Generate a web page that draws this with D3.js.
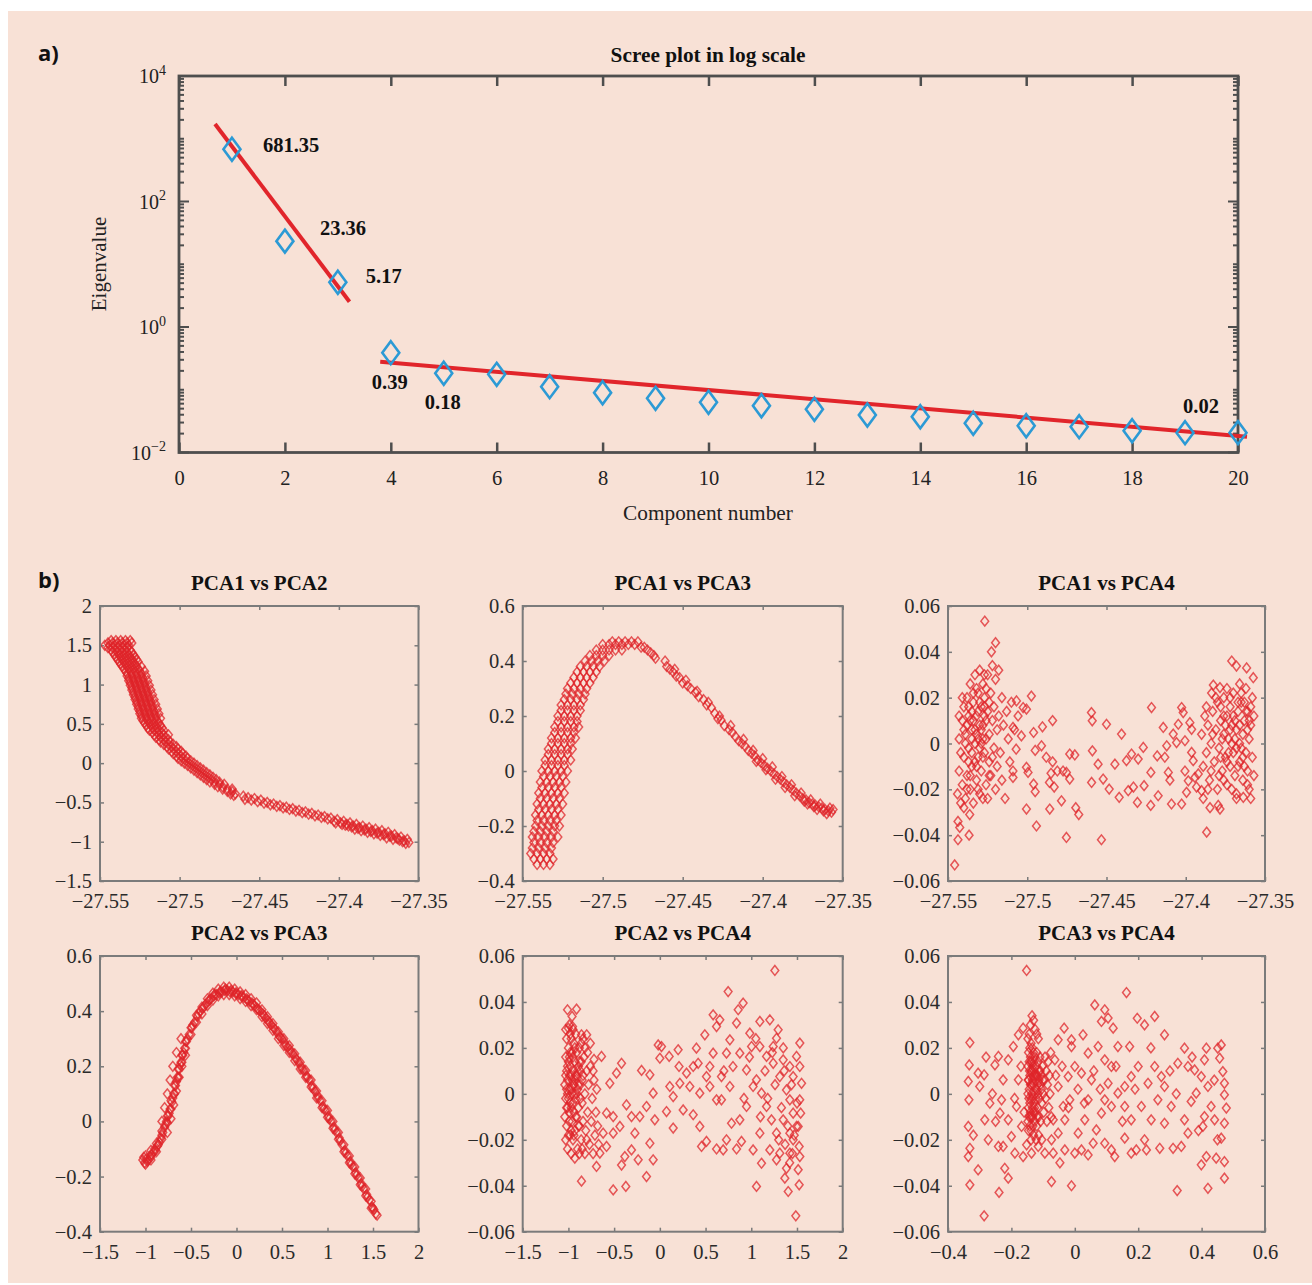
<!DOCTYPE html>
<html><head><meta charset="utf-8">
<script src="https://cdn.jsdelivr.net/npm/d3@7"></script>
<style>body{margin:0;background:#fff}svg{display:block}</style>
</head><body><svg id="c" width="1312" height="1285"></svg>
<script>
// ---------------- DATA ----------------
const components = [1,2,3,4,5,6,7,8,9,10,11,12,13,14,15,16,17,18,19,20];
const eigenvalues = [681.35,23.36,5.17,0.39,0.183,0.176,0.112,0.0897,0.073,0.063,0.0557,0.0488,0.0396,0.0372,0.0292,0.0267,0.0258,0.0222,0.0207,0.0207];
const fitSteep = [[0.68,1718],[3.22,2.53]];
const fitFlat = [[3.8,0.28],[20.17,0.0179]];
const labelTexts = ["681.35","23.36","5.17","0.39","0.18","0.02"];
const labelComponents = [1,2,3,4,5,19];
const screeXTicks = [0,2,4,6,8,10,12,14,16,18,20];
const screeYExponents = [-2,0,2,4];

const pc1Ticks = [-27.55,-27.5,-27.45,-27.4,-27.35];
const pc2Ticks = [-1.5,-1,-0.5,0,0.5,1,1.5,2];
const pc3Ticks = [-0.4,-0.2,0,0.2,0.4,0.6];
const pc4Ticks = [-0.06,-0.04,-0.02,0,0.02,0.04,0.06];
const panelTitles = ["PCA1 vs PCA2","PCA1 vs PCA3","PCA1 vs PCA4","PCA2 vs PCA3","PCA2 vs PCA4","PCA3 vs PCA4"];

// PCA1 vs PCA2 : rows [pc2, [pc1...]] + pairs
const pca12Rows = [
[1.56,[-27.543,-27.540,-27.537,-27.534,-27.531]],
[1.53,[-27.545,-27.542,-27.539,-27.536,-27.533,-27.530]],
[1.50,[-27.547,-27.544,-27.541,-27.538,-27.535,-27.532]],
[1.47,[-27.545,-27.542,-27.539,-27.536,-27.533]],
[1.44,[-27.543,-27.540,-27.537,-27.534,-27.531]],
[1.41,[-27.542,-27.539,-27.536,-27.533,-27.530]],
[1.38,[-27.541,-27.538,-27.535,-27.532,-27.529]],
[1.35,[-27.540,-27.537,-27.534,-27.531,-27.528]],
[1.32,[-27.539,-27.536,-27.533,-27.530,-27.527]],
[1.29,[-27.538,-27.535,-27.532,-27.529,-27.526]],
[1.26,[-27.537,-27.534,-27.531,-27.528]],
[1.23,[-27.536,-27.533,-27.530,-27.527,-27.524]],
[1.20,[-27.535,-27.532,-27.529,-27.526]],
[1.17,[-27.534,-27.531,-27.528,-27.525,-27.522]],
[1.14,[-27.533,-27.530,-27.527,-27.524]],
[1.11,[-27.533,-27.530,-27.527,-27.524,-27.521]],
[1.08,[-27.532,-27.529,-27.526,-27.523]],
[1.05,[-27.532,-27.529,-27.526,-27.523,-27.520]],
[1.02,[-27.531,-27.528,-27.525,-27.522]],
[0.99,[-27.531,-27.528,-27.525,-27.522,-27.519]],
[0.96,[-27.530,-27.527,-27.524,-27.521]],
[0.93,[-27.530,-27.527,-27.524,-27.521,-27.518]],
[0.90,[-27.529,-27.526,-27.523,-27.520]],
[0.87,[-27.529,-27.526,-27.523,-27.520,-27.517]],
[0.84,[-27.528,-27.525,-27.522,-27.519]],
[0.81,[-27.528,-27.525,-27.522,-27.519,-27.516]],
[0.78,[-27.527,-27.524,-27.521,-27.518]],
[0.75,[-27.527,-27.524,-27.521,-27.518,-27.515]],
[0.72,[-27.526,-27.523,-27.520,-27.517]],
[0.69,[-27.526,-27.523,-27.520,-27.517,-27.514]],
[0.66,[-27.525,-27.522,-27.519,-27.516]],
[0.63,[-27.525,-27.522,-27.519,-27.516,-27.513]],
[0.60,[-27.524,-27.521,-27.518,-27.515]],
[0.57,[-27.524,-27.521,-27.518,-27.515,-27.512]],
[0.54,[-27.523,-27.520,-27.517,-27.514]],
[0.51,[-27.522,-27.519,-27.516,-27.513]],
[0.48,[-27.521,-27.518,-27.515,-27.512]],
[0.45,[-27.520,-27.517,-27.514,-27.511]],
[0.42,[-27.519,-27.516,-27.513,-27.510]],
[0.39,[-27.517,-27.514,-27.511]],
[0.36,[-27.516,-27.513,-27.510,-27.507]],
[0.33,[-27.515,-27.512,-27.509]],
[0.30,[-27.513,-27.510,-27.507]],
[0.27,[-27.512,-27.509,-27.506]],
[0.24,[-27.510,-27.507,-27.504]],
[0.21,[-27.508,-27.505,-27.502]],
[0.18,[-27.507,-27.504,-27.501]],
[0.15,[-27.505,-27.502,-27.499]],
[0.12,[-27.504,-27.501,-27.498]],
[0.09,[-27.502,-27.499,-27.496]],
[0.06,[-27.501,-27.498,-27.495]],
[0.03,[-27.499,-27.496,-27.493]],
[0.00,[-27.497,-27.494,-27.491]],
[-0.03,[-27.495,-27.492,-27.489]],
[-0.06,[-27.493,-27.490,-27.487]],
[-0.09,[-27.491,-27.488,-27.485]],
[-0.12,[-27.489,-27.486,-27.483]],
[-0.15,[-27.487,-27.484,-27.481]],
[-0.18,[-27.485,-27.482,-27.479]],
[-0.21,[-27.483,-27.480,-27.477]],
[-0.24,[-27.481,-27.478,-27.475]],
[-0.27,[-27.478,-27.475,-27.472]],
[-0.30,[-27.476,-27.473]],
[-0.33,[-27.473,-27.470,-27.467]],
[-0.36,[-27.470,-27.467]],
[-0.39,[-27.468,-27.465]],
[-0.41,[-27.466]]
];
const pca12Tail = [[-27.460,-0.42],[-27.459,-0.46],[-27.457,-0.44],[-27.455,-0.47],[-27.453,-0.45],[-27.451,-0.49],[-27.449,-0.47],[-27.447,-0.51],[-27.445,-0.50],[-27.443,-0.53],[-27.441,-0.52],[-27.439,-0.55],[-27.437,-0.54],[-27.435,-0.57],[-27.433,-0.56],[-27.431,-0.59],[-27.429,-0.58],[-27.427,-0.61],[-27.425,-0.60],[-27.423,-0.63],[-27.421,-0.62],[-27.419,-0.65],[-27.417,-0.64],[-27.415,-0.67],[-27.413,-0.66],[-27.411,-0.69],[-27.409,-0.68],[-27.407,-0.71],[-27.405,-0.70],[-27.403,-0.74],[-27.401,-0.72],[-27.399,-0.76],[-27.397,-0.74],[-27.395,-0.78],[-27.393,-0.76],[-27.391,-0.80],[-27.389,-0.78],[-27.387,-0.82],[-27.385,-0.80],[-27.383,-0.84],[-27.381,-0.82],[-27.379,-0.86],[-27.377,-0.84],[-27.375,-0.88],[-27.373,-0.86],[-27.371,-0.90],[-27.369,-0.88],[-27.367,-0.93],[-27.365,-0.91],[-27.363,-0.96],[-27.361,-0.94],[-27.359,-0.99],[-27.357,-0.97],[-27.356,-1.01],[-27.358,-1.02],[-27.360,-1.00],[-27.362,-0.98],[-27.364,-0.95],[-27.366,-0.97],[-27.368,-0.93],[-27.370,-0.95],[-27.372,-0.91],[-27.374,-0.92],[-27.376,-0.89],[-27.378,-0.90],[-27.380,-0.87],[-27.382,-0.88],[-27.384,-0.85],[-27.386,-0.86],[-27.388,-0.83],[-27.390,-0.84],[-27.392,-0.81],[-27.394,-0.80],[-27.396,-0.79],[-27.398,-0.78],[-27.402,-0.76]];

// PCA1 vs PCA3 : rows [pc3, [pc1...]] + pairs
const pca13Rows = [
[-0.34,[-27.541,-27.537,-27.533]],
[-0.32,[-27.543,-27.539,-27.535,-27.531]],
[-0.30,[-27.545,-27.541,-27.537,-27.533]],
[-0.28,[-27.544,-27.540,-27.536,-27.532]],
[-0.26,[-27.543,-27.539,-27.535,-27.531]],
[-0.24,[-27.544,-27.540,-27.536,-27.532,-27.528]],
[-0.22,[-27.543,-27.539,-27.535,-27.531]],
[-0.20,[-27.542,-27.538,-27.534,-27.530,-27.527]],
[-0.18,[-27.541,-27.537,-27.533,-27.529]],
[-0.16,[-27.542,-27.538,-27.534,-27.530,-27.526]],
[-0.14,[-27.540,-27.536,-27.532,-27.528]],
[-0.12,[-27.541,-27.537,-27.533,-27.529,-27.525]],
[-0.10,[-27.539,-27.535,-27.531,-27.527]],
[-0.08,[-27.540,-27.536,-27.532,-27.528,-27.524]],
[-0.06,[-27.538,-27.534,-27.530,-27.526]],
[-0.04,[-27.539,-27.535,-27.531,-27.527,-27.523]],
[-0.02,[-27.537,-27.533,-27.529,-27.525]],
[0.00,[-27.538,-27.534,-27.530,-27.526,-27.522]],
[0.02,[-27.536,-27.532,-27.528,-27.524]],
[0.04,[-27.536,-27.532,-27.528,-27.524,-27.520]],
[0.06,[-27.534,-27.530,-27.526,-27.522]],
[0.08,[-27.534,-27.530,-27.526,-27.522,-27.519]],
[0.10,[-27.532,-27.528,-27.524,-27.520]],
[0.12,[-27.532,-27.528,-27.524,-27.520,-27.517]],
[0.14,[-27.530,-27.526,-27.522,-27.518]],
[0.16,[-27.530,-27.526,-27.522,-27.518,-27.515]],
[0.18,[-27.528,-27.524,-27.520,-27.516]],
[0.20,[-27.528,-27.524,-27.520,-27.516]],
[0.22,[-27.526,-27.522,-27.518,-27.514]],
[0.24,[-27.526,-27.522,-27.518,-27.514]],
[0.26,[-27.524,-27.520,-27.516,-27.512]],
[0.28,[-27.523,-27.519,-27.515,-27.511]],
[0.30,[-27.522,-27.518,-27.514,-27.510]],
[0.32,[-27.520,-27.516,-27.512,-27.508]],
[0.34,[-27.518,-27.514,-27.510,-27.506]],
[0.36,[-27.516,-27.512,-27.508,-27.504]],
[0.38,[-27.514,-27.510,-27.506,-27.502]],
[0.40,[-27.511,-27.507,-27.503,-27.499]],
[0.42,[-27.508,-27.504,-27.500,-27.496]],
[0.44,[-27.504,-27.500,-27.496,-27.492,-27.488]],
[0.46,[-27.500,-27.496,-27.492,-27.488,-27.484,-27.480]],
[0.47,[-27.494,-27.490,-27.486,-27.482,-27.478]],
[0.45,[-27.476,-27.474]],
[0.44,[-27.472]],
[0.43,[-27.470]],
[0.42,[-27.468]],
[0.41,[-27.467]]
];
const pca13Tail = [[-27.461,0.40],[-27.460,0.38],[-27.458,0.37],[-27.456,0.36],[-27.454,0.345],[-27.452,0.34],[-27.450,0.32],[-27.447,0.31],[-27.445,0.30],[-27.442,0.285],[-27.440,0.27],[-27.437,0.26],[-27.435,0.24],[-27.432,0.23],[-27.430,0.21],[-27.428,0.19],[-27.426,0.185],[-27.424,0.165],[-27.421,0.15],[-27.419,0.14],[-27.417,0.125],[-27.415,0.11],[-27.413,0.10],[-27.411,0.09],[-27.409,0.075],[-27.407,0.065],[-27.405,0.055],[-27.403,0.04],[-27.401,0.03],[-27.399,0.02],[-27.397,0.01],[-27.395,0.00],[-27.393,-0.01],[-27.391,-0.02],[-27.389,-0.03],[-27.387,-0.04],[-27.385,-0.05],[-27.383,-0.06],[-27.381,-0.07],[-27.379,-0.08],[-27.377,-0.09],[-27.375,-0.10],[-27.373,-0.105],[-27.371,-0.115],[-27.369,-0.12],[-27.367,-0.125],[-27.365,-0.13],[-27.363,-0.135],[-27.361,-0.14],[-27.359,-0.145],[-27.357,-0.15],[-27.356,-0.14],
[-27.455,0.37],[-27.448,0.33],[-27.441,0.29],[-27.434,0.25],[-27.427,0.20],[-27.420,0.165],[-27.412,0.115],[-27.406,0.075],[-27.400,0.045],[-27.394,0.015],[-27.388,-0.02],[-27.382,-0.05],[-27.376,-0.08],[-27.370,-0.105],[-27.364,-0.12],[-27.358,-0.135],[-27.404,0.035],[-27.398,0.005],[-27.392,-0.03],[-27.386,-0.06],[-27.380,-0.09],[-27.374,-0.11],[-27.368,-0.13],[-27.362,-0.145],[-27.360,-0.155],[-27.366,-0.14],[-27.372,-0.12]];

// PCA1 vs PCA4
const pca14 = [
[-27.544,-0.022],[-27.543,-0.012],[-27.543,0.002],[-27.542,-0.026],[-27.541,0.010],[-27.541,-0.018],[-27.540,-0.006],[-27.540,0.016],[-27.539,-0.024],[-27.539,0.004],[-27.538,-0.014],[-27.538,0.020],[-27.537,-0.002],[-27.537,0.012],[-27.536,-0.020],[-27.536,0.026],[-27.535,0.006],[-27.535,-0.010],[-27.534,0.018],[-27.534,-0.026],[-27.533,0.000],[-27.533,0.030],[-27.532,0.012],[-27.532,-0.016],[-27.531,0.022],[-27.531,-0.006],[-27.530,0.008],[-27.530,0.032],[-27.530,-0.022],[-27.529,0.016],[-27.529,-0.012],[-27.528,0.002],[-27.528,0.026],[-27.527,-0.004],[-27.527,0.020],[-27.526,0.010],[-27.526,-0.018],[-27.525,0.014],[-27.525,0.030],[-27.524,-0.008],[-27.524,0.004],[-27.523,0.022],[-27.523,-0.014],[-27.522,0.010],[-27.522,0.034],[-27.521,-0.002],[-27.521,0.016],[-27.520,-0.020],[-27.520,0.028],[-27.519,0.006],[-27.519,-0.010],[-27.518,0.012],[-27.518,0.032],[-27.517,-0.004],[-27.516,0.020],[-27.516,-0.016],[-27.515,0.008],[-27.514,-0.024],[-27.513,0.014],[-27.512,0.002],[-27.511,-0.008],[-27.510,0.018],[-27.509,-0.012],[-27.508,0.006],[-27.541,0.020],[-27.538,0.008],[-27.535,0.014],[-27.532,0.004],[-27.529,0.000],[-27.533,-0.008],[-27.536,-0.014],[-27.527,0.012],[-27.531,0.014],[-27.534,0.010],[-27.537,0.016],[-27.526,0.002],[-27.524,0.018],[-27.522,-0.006],[-27.530,-0.002],[-27.540,-0.028],[-27.528,-0.024],[-27.525,-0.024],[-27.535,0.002],[-27.532,0.024],[-27.528,0.008],
[-27.539,0.000],[-27.537,-0.008],[-27.535,-0.004],[-27.533,0.006],[-27.531,0.002],[-27.529,0.006],[-27.527,0.016],[-27.534,0.022],[-27.530,0.018],[-27.526,0.024],[-27.536,0.010],[-27.532,-0.010],[-27.528,-0.006],[-27.524,-0.014],[-27.540,0.006],[-27.538,-0.020],[-27.542,-0.004],[-27.543,0.012],[-27.531,-0.020],[-27.527,0.030],
[-27.390,0.004],[-27.389,-0.010],[-27.388,0.012],[-27.387,-0.004],[-27.386,0.008],[-27.385,-0.016],[-27.384,0.000],[-27.383,0.014],[-27.382,-0.008],[-27.381,0.006],[-27.380,-0.020],[-27.380,0.018],[-27.379,-0.002],[-27.378,0.010],[-27.377,-0.012],[-27.376,0.004],[-27.376,0.020],[-27.375,-0.006],[-27.374,0.012],[-27.374,-0.018],[-27.373,0.002],[-27.372,0.016],[-27.372,-0.010],[-27.371,0.008],[-27.370,-0.004],[-27.370,0.022],[-27.369,-0.014],[-27.368,0.006],[-27.368,-0.022],[-27.367,0.014],[-27.366,0.000],[-27.366,-0.008],[-27.365,0.018],[-27.364,-0.016],[-27.364,0.004],[-27.363,0.010],[-27.362,-0.004],[-27.362,0.024],[-27.361,-0.012],[-27.361,0.014],[-27.360,0.002],[-27.360,-0.020],[-27.359,0.008],[-27.358,-0.006],[-27.358,0.020],[-27.357,0.012],[-27.357,-0.014],[-27.377,0.002],[-27.373,-0.004],[-27.369,0.010],[-27.365,-0.002],[-27.363,0.018],[-27.371,0.000],[-27.367,-0.010],[-27.375,0.008],[-27.379,-0.014],[-27.383,0.004],[-27.386,-0.020],[-27.381,0.020],[-27.374,0.024],[-27.366,0.026],[-27.359,-0.024],[-27.369,0.002],[-27.372,0.006],[-27.376,-0.016],[-27.363,-0.010],[-27.361,0.006],[-27.378,0.016],[-27.384,-0.012],[-27.387,0.016],
[-27.370,0.012],[-27.368,-0.002],[-27.366,0.008],[-27.364,-0.006],[-27.362,0.014],[-27.360,0.010],[-27.372,0.020],[-27.374,-0.008],[-27.376,0.012],[-27.378,-0.006],[-27.365,0.022],[-27.361,-0.018],[-27.367,0.018],[-27.371,-0.020],[-27.359,0.016],
[-27.5268,0.0534],[-27.520,0.044],[-27.5226,0.040],[-27.5458,-0.053],[-27.5437,-0.042],[-27.5426,-0.0366],[-27.5437,-0.034],[-27.5363,-0.031],[-27.5367,-0.040],[-27.4974,0.0207],[-27.5005,0.015],[-27.4904,0.0073],[-27.484,0.010],[-27.491,-0.001],[-27.488,-0.006],[-27.484,-0.008],[-27.485,-0.013],[-27.481,-0.012],[-27.486,-0.017],[-27.483,-0.019],[-27.5005,-0.0286],[-27.4942,-0.036],[-27.4858,-0.0286],[-27.4784,-0.025],[-27.4753,-0.041],[-27.4732,-0.0046],[-27.470,-0.005],[-27.4753,-0.0126],[-27.4774,-0.012],[-27.4732,-0.0155],[-27.4694,-0.028],[-27.4675,-0.031],[-27.496,0.0048],[-27.495,-0.003],[-27.4995,-0.0126],[-27.496,-0.0177],[-27.495,-0.021],[-27.5026,0.0157],[-27.5068,0.0186],[-27.5058,0.012],[-27.509,0.007],[-27.5037,0.0033],[-27.507,-0.0025],[-27.509,-0.0148],[-27.5005,-0.0104],[-27.4595,0.0135],[-27.459,0.0099],[-27.45,0.0084],[-27.4405,0.0041],[-27.4589,-0.0032],[-27.4553,-0.009],[-27.4594,-0.017],[-27.4521,-0.0155],[-27.4483,-0.0199],[-27.4532,-0.042],[-27.4447,-0.009],[-27.442,-0.0235],[-27.4374,-0.0075],[-27.4342,-0.0046],[-27.430,-0.0068],[-27.4268,-0.0017],[-27.4363,-0.0206],[-27.433,-0.019],[-27.4305,-0.0257],[-27.4263,-0.0184],[-27.4216,0.0157],[-27.422,-0.0126],[-27.418,-0.0054],[-27.4221,-0.027],[-27.4174,-0.0228],[-27.4142,0.007],[-27.4132,-0.006],[-27.412,-0.001],[-27.411,-0.0126],[-27.410,-0.016],[-27.409,-0.0264],[-27.4079,0.0041],[-27.4058,0.0004],[-27.4047,0.0084],[-27.4026,-0.0264],[-27.4026,0.0157],[-27.4016,0.0135],[-27.4005,0.0012],[-27.4005,-0.012],[-27.3995,-0.0213],[-27.3974,0.0091],[-27.3963,-0.0039],[-27.3963,0.0062],[-27.3953,-0.0075],[-27.3984,-0.0163],[-27.3942,-0.0148],[-27.3921,-0.0133],[-27.3932,-0.019],[-27.390,-0.0206],[-27.389,-0.024],[-27.3868,-0.0387],[-27.3847,-0.028],[-27.3826,0.0255],[-27.3784,0.0244],[-27.3837,0.022],[-27.371,0.036],[-27.368,0.0338],[-27.3616,0.033],[-27.3574,0.0287],[-27.3795,-0.027],[-27.3784,-0.0286],[-27.368,-0.024],[-27.3637,-0.0235]
];

// PCA2 vs PCA3
const pca23 = [[-1.03,-0.14],[-1.01,-0.15],[-0.99,-0.135],[-0.97,-0.14],[-0.95,-0.125],[-0.93,-0.12],[-0.91,-0.11],[-0.89,-0.105],[-0.87,-0.09],[-0.85,-0.075],[-0.83,-0.06],[-0.81,-0.04],[-0.79,-0.02],[-0.77,0.00],[-0.75,0.02],[-0.73,0.045],[-0.71,0.07],[-0.69,0.10],[-0.67,0.13],[-0.65,0.16],[-0.63,0.19],[-0.61,0.215],[-0.59,0.24],[-0.57,0.265],[-0.55,0.29],[-0.52,0.315],[-0.49,0.34],[-0.46,0.36],[-0.43,0.38],[-0.40,0.40],[-0.37,0.41],[-0.34,0.425],[-0.31,0.435],[-0.28,0.445],[-0.25,0.455],[-0.22,0.46],[-0.19,0.465],[-0.16,0.47],[-0.13,0.475],[-0.10,0.475],[-0.07,0.47],[-0.04,0.47],[-0.01,0.465],[0.02,0.46],[0.05,0.455],[0.08,0.45],[0.11,0.445],[0.14,0.435],[0.17,0.43],[0.20,0.42],[0.23,0.41],[0.26,0.40],[0.29,0.39],[0.32,0.375],[0.35,0.365],[0.38,0.35],[0.41,0.34],[0.44,0.325],[0.47,0.31],[0.50,0.30],[0.53,0.285],[0.56,0.27],[0.59,0.26],[0.62,0.245],[0.65,0.23],[0.68,0.215],[0.71,0.20],[0.74,0.185],[0.77,0.165],[0.80,0.15],[0.83,0.13],[0.86,0.11],[0.89,0.095],[0.92,0.075],[0.95,0.055],[0.98,0.04],[1.01,0.02],[1.04,0.00],[1.07,-0.02],[1.10,-0.04],[1.13,-0.06],[1.16,-0.085],[1.19,-0.105],[1.22,-0.125],[1.25,-0.145],[1.28,-0.165],[1.31,-0.185],[1.34,-0.205],[1.37,-0.225],[1.40,-0.245],[1.43,-0.265],[1.46,-0.285],[1.49,-0.31],[1.51,-0.32],[1.53,-0.335],[1.545,-0.34],
[-1.02,-0.13],[-0.98,-0.145],[-0.94,-0.13],[-0.90,-0.10],[-0.86,-0.085],[-0.82,-0.05],[-0.78,-0.01],[-0.74,0.03],[-0.70,0.085],[-0.66,0.145],[-0.62,0.205],[-0.58,0.25],[-0.54,0.30],[-0.48,0.35],[-0.42,0.39],[-0.36,0.415],[-0.30,0.44],[-0.24,0.46],[-0.18,0.47],[-0.12,0.48],[-0.06,0.475],[0.00,0.465],[0.06,0.455],[0.12,0.44],[0.18,0.425],[0.24,0.405],[0.30,0.385],[0.36,0.36],[0.42,0.335],[0.48,0.305],[0.54,0.275],[0.60,0.25],[0.66,0.225],[0.72,0.19],[0.78,0.16],[0.84,0.12],[0.90,0.085],[0.96,0.045],[1.02,0.01],[1.08,-0.03],[1.14,-0.07],[1.20,-0.115],[1.26,-0.155],[1.32,-0.195],[1.38,-0.235],[1.44,-0.275],[1.50,-0.315],
[-1.00,-0.125],[-0.94,-0.105],[-0.88,-0.08],[-0.82,-0.035],[-0.76,0.02],[-0.72,0.075],[-0.68,0.13],[-0.64,0.19],[-0.60,0.24],[-0.56,0.29],[-0.50,0.34],[-0.44,0.385],[-0.38,0.415],[-0.32,0.445],[-0.26,0.465],[-0.20,0.48],[-0.14,0.487],[-0.08,0.487],[-0.02,0.48],[0.04,0.47],[0.10,0.46],[0.16,0.445],[0.22,0.43],[0.28,0.405],[0.34,0.38],[0.40,0.355],[0.46,0.325],[0.52,0.30],[0.58,0.275],[0.64,0.245],[0.70,0.215],[0.76,0.185],[0.82,0.15],[0.88,0.11],[0.94,0.075],[1.00,0.04],[1.06,0.0],[1.12,-0.04],[1.18,-0.085],[1.24,-0.125],[1.30,-0.165],[1.36,-0.205],[1.42,-0.245],[1.48,-0.29],
[-1.00,-0.155],[-0.94,-0.14],[-0.88,-0.11],[-0.82,-0.065],[-0.76,-0.005],[-0.72,0.045],[-0.68,0.10],[-0.64,0.16],[-0.60,0.215],[-0.56,0.265],[-0.50,0.315],[-0.44,0.36],[-0.38,0.39],[-0.32,0.42],[-0.26,0.44],[-0.20,0.455],[-0.14,0.46],[-0.08,0.46],[-0.02,0.455],[0.04,0.445],[0.10,0.435],[0.16,0.42],[0.22,0.405],[0.28,0.38],[0.34,0.355],[0.40,0.33],[0.46,0.30],[0.52,0.275],[0.58,0.25],[0.64,0.22],[0.70,0.19],[0.76,0.16],[0.82,0.125],[0.88,0.085],[0.94,0.05],[1.00,0.015],[1.06,-0.025],[1.12,-0.065],[1.18,-0.11],[1.24,-0.15],[1.30,-0.19],[1.36,-0.23],[1.42,-0.27],[1.48,-0.315],
[-0.82,0.0],[-0.79,0.05],[-0.76,0.10],[-0.73,0.15],[-0.70,0.20],[-0.66,0.25],[-0.61,0.30],[-0.76,-0.04],[-0.72,0.01],[-0.69,0.06],[-0.66,0.11],[-0.63,0.16],[-0.60,0.20],[-0.56,0.24]];

// PCA2 vs PCA4
const pca24 = [
[-1.04,0.004],[-1.04,-0.010],[-1.03,0.016],[-1.03,-0.020],[-1.03,-0.002],[-1.02,0.010],[-1.02,-0.014],[-1.02,0.024],[-1.01,-0.006],[-1.01,0.006],[-1.01,-0.024],[-1.00,0.014],[-1.00,-0.002],[-1.00,0.020],[-0.99,-0.012],[-0.99,0.002],[-0.98,0.012],[-0.98,-0.018],[-0.98,0.026],[-0.97,-0.006],[-0.97,0.008],[-0.96,0.018],[-0.96,-0.012],[-0.96,0.000],[-0.95,0.010],[-0.95,-0.020],[-0.94,0.004],[-0.94,0.022],[-0.94,-0.008],[-0.93,0.014],[-0.93,-0.016],[-0.92,-0.002],[-0.92,0.008],[-0.91,0.018],[-0.91,-0.010],[-0.90,0.002],[-0.90,-0.024],[-0.89,0.012],[-0.89,-0.006],[-0.88,0.020],[-0.88,-0.014],[-0.87,0.004],[-0.86,0.014],[-0.86,-0.020],[-0.85,-0.004],[-0.84,0.008],[-0.84,-0.012],[-0.83,0.016],[-0.82,0.000],[-0.81,-0.016],[-0.80,0.010],[-0.79,-0.008],[-0.78,0.004],[-0.77,-0.022],[-0.76,0.012],[-0.75,-0.012],[-0.74,-0.002],[-0.73,-0.026],[-0.72,0.006],[-0.71,-0.018],[-0.70,-0.008],[-0.69,0.002],[-0.68,-0.014],[-0.67,-0.022],[-1.03,0.028],[-0.99,0.030],[-0.97,0.024],[-0.95,0.028],[-0.92,0.026],[-0.88,-0.026],[-0.85,-0.024],[-0.82,-0.026],[-0.93,-0.028],[-1.00,-0.018],[-0.97,-0.026],[-0.96,0.006],[-0.99,0.008],[-0.93,0.000],[-0.90,0.010],[-0.87,-0.002],[-0.89,0.004],[-0.91,0.000],[-0.95,-0.004],[-1.02,0.002],[-0.98,-0.004],[-0.86,0.022],[-0.82,0.020],[-0.79,0.018],[-0.76,0.022],[-0.73,0.010],[-0.80,-0.020],[-0.84,0.024],
[-1.03,0.008],[-1.01,0.000],[-0.99,0.016],[-0.97,0.002],[-0.95,0.016],[-0.93,0.006],[-0.91,0.008],[-0.89,-0.014],[-0.87,0.010],[-0.85,0.006],[-0.97,-0.016],[-0.99,-0.008],[-1.01,0.012],[-0.95,0.004],[-0.93,0.020],[-1.02,-0.006],[-0.98,0.018],[-0.92,-0.010],[-0.88,0.014],[-0.94,-0.018],
[-1.01,0.0366],[-0.911,0.0369],[-0.96,0.0337],[-1.0,0.0286],[-0.955,0.0293],[-0.857,0.0257],[-0.80,0.0257],[-0.857,-0.038],[-0.638,0.0163],[-0.72,0.015],[-0.547,0.0046],[-0.474,0.009],[-0.419,0.0133],[-0.51,-0.0418],[-0.372,-0.0403],[-0.383,-0.0273],[-0.419,-0.031],[-0.31,-0.0244],[-0.237,-0.0287],[-0.146,-0.036],[-0.073,-0.0287],[-0.109,-0.0215],[-0.2,0.0102],[-0.109,0.0083],[-0.018,0.0213],[0.018,0.0206],[0.102,0.0163],[0.0,0.0155],[0.2,0.0192],[0.21,0.0119],[0.40,0.0199],[0.365,0.0119],[0.492,0.0257],[0.583,0.0344],[0.656,0.0322],[0.62,0.0293],[0.747,0.0445],[0.857,0.0366],[0.911,0.0395],[0.839,0.0308],[0.984,0.0264],[1.094,0.0315],[1.203,0.0322],[1.258,0.0537],[1.294,0.0279],[1.531,0.0221],[1.531,0.0119],[1.55,0.0046],[1.53,-0.0026],[1.54,-0.0084],[1.513,-0.0142],[1.524,-0.0229],[1.531,-0.0273],[1.513,-0.033],[1.524,-0.0396],[1.487,-0.0531],[1.404,-0.0425],[1.367,-0.0367],[1.385,-0.0324],[1.312,-0.0258],[1.057,-0.0403],[1.112,-0.0302],[1.02,-0.0244],[0.893,-0.0207],[0.839,-0.024],[0.693,-0.0244],[0.62,-0.024],[0.729,-0.020],[0.784,-0.0128],[0.456,-0.0229],[0.51,-0.0207],[0.437,-0.0142],[0.365,-0.0091],[0.255,-0.007],[0.146,-0.0012],[0.073,-0.0077],[0.146,-0.0149],[0.109,0.0032],[0.219,0.0046],[0.292,0.009],[0.419,0.0133],[0.51,0.0075],[0.547,0.0032],[0.62,-0.0026],[0.674,0.0075],[0.766,0.0032],[0.80,0.0119],[0.875,0.0177],[0.948,0.0104],[1.057,0.0061],[1.112,0.0003],[1.167,-0.0055],[1.221,-0.0113],[1.276,-0.0171],[1.349,-0.0113],[1.422,-0.0171],[1.458,-0.0084],[1.385,0.0017],[1.312,0.0075],[1.24,0.0133],[1.422,0.0119],[1.349,0.0148],[1.167,0.0163],[1.094,0.0206],[1.003,0.0206],[1.02,0.0032],[0.948,-0.0055],[0.875,-0.0113],[1.094,-0.0171],[1.203,-0.0244],[1.276,-0.0287],[1.422,-0.0258],[1.458,-0.020],[1.495,-0.0142],[1.422,-0.0026],[1.458,0.0075],[1.495,0.0163],[1.24,0.0206],[1.276,0.0242],[0.766,0.0235],[0.729,0.0177],[0.583,0.0177],[0.547,0.0119],[0.674,-0.0026],[0.437,0.0003],[0.328,0.0032],[-0.146,-0.0055],[-0.073,0.0003],[-0.055,-0.0113],[-0.219,-0.0099],[-0.273,-0.0171],[-0.31,-0.0099],[-0.365,-0.0048],[-0.437,-0.0142],[-0.51,-0.0171],[-0.51,-0.0099],[-0.583,-0.0084],[-0.62,-0.0171],[-0.583,-0.0229],[-0.656,-0.0258],[-0.693,-0.0316],
[1.15,0.010],[1.18,-0.002],[1.26,0.004],[1.33,-0.006],[1.36,0.010],[1.40,-0.014],[1.44,0.004],[1.47,-0.018],[1.50,-0.004],[1.30,-0.020],[1.37,-0.022],[1.42,-0.030],[1.45,-0.026],[1.10,-0.010],[0.98,0.016],[1.05,0.024],[1.23,0.018],[1.35,0.020],[0.70,0.010],[0.92,-0.002]
];

// PCA3 vs PCA4
const pca34 = [
[-0.148,0.024],[-0.148,0.012],[-0.148,0.000],[-0.148,-0.012],[-0.146,0.018],[-0.146,0.006],[-0.146,-0.006],[-0.146,-0.016],[-0.144,0.026],[-0.144,0.014],[-0.144,0.002],[-0.144,-0.010],[-0.142,0.020],[-0.142,0.008],[-0.142,-0.004],[-0.142,-0.014],[-0.140,0.016],[-0.140,0.004],[-0.140,-0.008],[-0.138,0.022],[-0.138,0.010],[-0.138,-0.002],[-0.138,-0.016],[-0.136,0.014],[-0.136,0.000],[-0.136,-0.010],[-0.134,0.020],[-0.134,0.006],[-0.134,-0.006],[-0.132,0.012],[-0.132,-0.002],[-0.132,-0.014],[-0.130,0.018],[-0.130,0.004],[-0.130,-0.008],[-0.128,0.010],[-0.128,-0.004],[-0.126,0.016],[-0.126,0.000],[-0.126,-0.012],[-0.124,0.006],[-0.124,-0.008],[-0.122,0.012],[-0.122,-0.002],[-0.120,0.018],[-0.120,0.002],[-0.120,-0.014],[-0.118,0.008],[-0.118,-0.006],[-0.116,0.014],[-0.116,0.000],[-0.114,-0.010],[-0.112,0.010],[-0.112,-0.002],[-0.110,0.016],[-0.108,0.004],[-0.108,-0.012],[-0.106,0.008],[-0.104,-0.004],[-0.102,0.012],[-0.100,0.000],[-0.098,-0.008],[-0.096,0.006],[-0.094,0.016],[-0.092,-0.002],[-0.090,0.010],[-0.088,-0.012],[-0.086,0.004],[-0.084,0.014],[-0.082,-0.006],[-0.080,0.008],[-0.078,0.000],[-0.076,0.018],[-0.074,-0.010],[-0.140,0.030],[-0.135,0.034],[-0.130,0.032],[-0.125,0.028],[-0.120,0.026],[-0.115,0.024],[-0.138,-0.020],[-0.130,-0.018],[-0.122,-0.020],[-0.114,-0.018],[-0.104,-0.020],
[-0.147,0.006],[-0.145,-0.002],[-0.143,0.010],[-0.141,-0.010],[-0.139,0.014],[-0.137,0.004],[-0.135,0.010],[-0.133,-0.010],[-0.131,0.008],[-0.129,0.014],[-0.127,-0.006],[-0.125,0.008],[-0.123,0.002],[-0.121,0.008],[-0.119,-0.010],[-0.117,0.004],[-0.113,0.006],[-0.109,0.010],[-0.105,0.002],[-0.101,0.006],
[-0.152,0.0537],[0.163,0.0441],[0.063,0.0387],[0.0945,0.0366],[0.105,0.033],[0.084,0.0315],[0.252,0.0337],[0.197,0.0329],[0.22,0.030],[0.283,0.0257],[-0.0336,0.0286],[-0.0105,0.0235],[0.026,0.0257],[0.121,0.0286],[-0.331,0.0223],[-0.333,0.0126],[-0.336,0.0054],[-0.334,-0.0026],[-0.336,-0.0142],[-0.331,-0.0237],[-0.336,-0.0273],[-0.331,-0.0396],[-0.305,-0.0331],[-0.286,-0.0531],[-0.239,-0.0429],[-0.221,-0.0324],[-0.21,-0.0367],[-0.305,0.009],[-0.30,0.0032],[-0.286,0.0083],[-0.284,-0.0113],[-0.273,-0.020],[-0.268,-0.0041],[-0.252,0.0126],[-0.241,0.0163],[-0.226,0.0061],[-0.231,-0.0026],[-0.236,-0.0084],[-0.226,-0.0229],[-0.241,-0.0229],[-0.21,-0.0113],[-0.2,-0.0186],[-0.189,-0.0258],[-0.21,0.0148],[-0.194,0.0206],[-0.178,0.0257],[-0.163,0.0286],[-0.178,0.0061],[-0.184,-0.0055],[-0.168,-0.0142],[-0.163,-0.0273],[-0.0735,-0.0382],[-0.0105,-0.0400],[-0.047,-0.030],[-0.068,-0.0258],[-0.0315,-0.0244],[0.0,-0.0258],[0.021,-0.0244],[0.042,-0.0266],[0.058,-0.0215],[0.068,-0.0157],[0.0945,-0.0215],[0.1155,-0.0244],[0.126,-0.0273],[0.1575,-0.0193],[0.178,-0.0258],[0.194,-0.0244],[0.22,-0.020],[0.226,-0.0244],[0.268,-0.0237],[0.31,-0.0237],[0.323,-0.0421],[0.336,-0.0229],[0.357,-0.0171],[0.399,-0.0309],[0.415,-0.0273],[0.42,-0.0411],[0.446,-0.028],[0.472,-0.0295],[0.472,-0.0367],[0.462,-0.0193],[0.472,-0.0128],[0.478,-0.0062],[0.472,-0.0004],[0.472,0.0046],[0.467,0.0097],[0.462,0.0213],[0.451,0.0199],[0.457,0.0155],[0.415,0.0199],[0.409,0.0148],[0.346,0.0199],[0.325,0.0133],[0.357,0.0119],[0.378,0.0104],[0.399,0.0075],[0.42,0.0032],[0.383,0.0003],[0.367,-0.0033],[0.409,-0.0099],[0.43,-0.0055],[0.441,-0.0113],[0.404,-0.0142],[0.346,-0.0113],[0.304,-0.0055],[0.283,0.0032],[0.273,0.0075],[0.252,0.0119],[0.231,0.0046],[0.262,-0.0026],[0.283,-0.0128],[0.241,-0.0113],[0.21,-0.0055],[0.178,-0.0113],[0.1575,-0.0055],[0.1575,0.0032],[0.178,0.0075],[0.2,0.0119],[0.173,0.0206],[0.136,0.0206],[0.1155,0.0119],[0.105,0.0046],[0.0945,-0.0026],[0.084,-0.0084],[0.1155,-0.0055],[0.136,0.0003],[0.0525,0.0061],[0.042,-0.0026],[0.0315,-0.0113],[0.0105,-0.0171],[0.021,0.009],[0.0,0.0119],[0.042,0.0177],[0.0735,0.0206],[0.0945,0.0148],[-0.0105,0.0206],[-0.021,0.0075],[-0.0158,-0.0026],[-0.0315,-0.0113],[-0.0525,-0.0171],[-0.0525,0.0235],[-0.063,0.0148],[-0.0525,0.0032],[-0.0368,-0.0055],[-0.068,-0.0113],[-0.0735,-0.020],[-0.0945,-0.0258],[-0.1155,-0.0229],[-0.1365,-0.0258],[-0.152,-0.0222],
[-0.06,0.008],[-0.04,0.012],[-0.02,-0.006],[0.01,0.002],[0.03,-0.004],[0.06,0.010],[0.08,0.002],[0.13,0.012],[0.15,-0.012],[0.19,0.002],[0.24,0.020],[0.30,0.010],[0.32,0.000],[0.37,0.016],[0.39,-0.016],[0.44,0.006],[0.45,-0.020],[-0.17,0.012],[-0.19,-0.002],[-0.25,-0.012],[-0.28,0.016],[-0.32,-0.018],[-0.26,0.000],[-0.16,-0.008]
];

// --------------- DRAW ---------------
const svg = d3.select('#c');
const serif = "'Liberation Serif','Times New Roman',serif";
svg.append('rect').attr('x',8).attr('y',11).attr('width',1304).attr('height',1272).attr('fill','#f8e1d6');

const diamond = (w,h) => `M0,${-h}L${w},0L0,${h}L${-w},0Z`;
const minus = v => (v < 0 ? '\u2212' : '') + Math.abs(v);

// ---- Panel a ----
const xS = d3.scaleLinear().domain([0,20]).range([179,1238]);
const yS = d3.scaleLog().domain([1e-2,1e4]).range([452.5,76]);
const ga = svg.append('g');
const axisCol = '#4e4e4e';

const logTicks = yS.ticks();
const isLabeled = d => screeYExponents.some(e => Math.abs(Math.pow(10,e) - d) < 1e-9 * Math.pow(10,e));
ga.selectAll('line.yl').data(logTicks).join('line')
  .attr('x1',179).attr('x2',d => 179 + (isLabeled(d) ? 10 : 5))
  .attr('y1',d => yS(d)).attr('y2',d => yS(d))
  .attr('stroke',axisCol).attr('stroke-width',2);
ga.selectAll('line.yr').data(logTicks).join('line')
  .attr('x1',1238).attr('x2',d => 1238 - (isLabeled(d) ? 10 : 5))
  .attr('y1',d => yS(d)).attr('y2',d => yS(d))
  .attr('stroke',axisCol).attr('stroke-width',2);

const xb = ga.append('g').attr('transform','translate(0,452.5)')
  .call(d3.axisBottom(xS).tickValues(screeXTicks).tickSize(-10).tickPadding(17.5).tickFormat(d => d));
const xt = ga.append('g').attr('transform','translate(0,76)')
  .call(d3.axisTop(xS).tickValues(screeXTicks).tickSize(-10).tickFormat(''));
[xb,xt].forEach(a => { a.select('.domain').remove(); a.selectAll('line').attr('stroke',axisCol).attr('stroke-width',2.5); });
xb.selectAll('text').attr('font-family',serif).attr('font-size',20.5).attr('fill','#222');

ga.append('rect').attr('x',179).attr('y',76).attr('width',1238-179).attr('height',452.5-76)
  .attr('fill','none').attr('stroke',axisCol).attr('stroke-width',2.8);

screeYExponents.forEach(e => {
  const t = ga.append('text').attr('x',166).attr('y',yS(Math.pow(10,e)) + 7)
    .attr('text-anchor','end').attr('font-family',serif).attr('font-size',20).attr('fill','#222');
  t.append('tspan').text('10');
  t.append('tspan').attr('dy',-8.5).attr('font-size',14).text(minus(e));
});

const lineGen = d3.line().x(d => xS(d[0])).y(d => yS(d[1]));
[fitSteep, fitFlat].forEach(f => ga.append('path').attr('d',lineGen(f))
  .attr('fill','none').attr('stroke','#e1252b').attr('stroke-width',4));

ga.selectAll('path.pt').data(components).join('path')
  .attr('transform',(c,i) => `translate(${xS(c)},${yS(eigenvalues[i])})`)
  .attr('d',diamond(8.5,11.5)).attr('fill','none').attr('stroke','#2c9ad5').attr('stroke-width',2.6);

const labelOffsets = [[31,3],[35,-6],[28,1],[-19,36],[-19,36],[-2,-20]];
labelTexts.forEach((txt,i) => {
  const c = labelComponents[i];
  ga.append('text').attr('x',xS(c) + labelOffsets[i][0]).attr('y',yS(eigenvalues[c-1]) + labelOffsets[i][1])
    .attr('font-family',serif).attr('font-weight','bold').attr('font-size',20.5).attr('fill','#111').text(txt);
});

ga.append('text').attr('x',708).attr('y',61.5).attr('text-anchor','middle')
  .attr('font-family',serif).attr('font-weight','bold').attr('font-size',21.3).attr('fill','#111').text('Scree plot in log scale');
ga.append('text').attr('x',708).attr('y',520).attr('text-anchor','middle')
  .attr('font-family',serif).attr('font-size',21.3).attr('fill','#222').text('Component number');
ga.append('text').attr('transform','translate(106,264) rotate(-90)').attr('text-anchor','middle')
  .attr('font-family',serif).attr('font-size',21).attr('fill','#222').text('Eigenvalue');

svg.append('text').attr('x',38).attr('y',61).attr('font-family',"'Open Sans',sans-serif").attr('font-weight','bold').attr('font-size',22).attr('fill','#111').text('a)');
svg.append('text').attr('x',38).attr('y',588).attr('font-family',"'Open Sans',sans-serif").attr('font-weight','bold').attr('font-size',22).attr('fill','#111').text('b)');

// ---- Panel b ----
const fromRowsY = rows => rows.flatMap(([yv, xs]) => xs.map(xv => [xv, yv]));
const datasets = [
  fromRowsY(pca12Rows).concat(pca12Tail),
  fromRowsY(pca13Rows).concat(pca13Tail),
  pca14, pca23, pca24, pca34
];
const xDomains = [[-27.55,-27.35],[-27.55,-27.35],[-27.55,-27.35],[-1.5,2],[-1.5,2],[-0.4,0.6]];
const yDomains = [[-1.5,2],[-0.4,0.6],[-0.06,0.06],[-0.4,0.6],[-0.06,0.06],[-0.06,0.06]];
const xTickSets = [pc1Ticks,pc1Ticks,pc1Ticks,pc2Ticks,pc2Ticks,pc3Ticks];
const yTickSets = [pc2Ticks,pc3Ticks,pc4Ticks,pc3Ticks,pc4Ticks,pc4Ticks];

const colX = [[100,418.5],[522.7,842.7],[948,1265]];
const rowY = [[606,881],[956,1231.7]];
const boxCol = '#7b7b7b';

panelTitles.forEach((title,i) => {
  const [x0,x1] = colX[i % 3], [y0,y1] = rowY[Math.floor(i / 3)];
  const x = d3.scaleLinear().domain(xDomains[i]).range([x0,x1]);
  const y = d3.scaleLinear().domain(yDomains[i]).range([y1,y0]);
  const g = svg.append('g');
  const fmt = d => minus(+d.toFixed(3));
  const axB = g.append('g').attr('transform',`translate(0,${y1})`).call(d3.axisBottom(x).tickValues(xTickSets[i]).tickSize(-4).tickPadding(12.5).tickFormat(fmt));
  const axT = g.append('g').attr('transform',`translate(0,${y0})`).call(d3.axisTop(x).tickValues(xTickSets[i]).tickSize(-4).tickFormat(''));
  const axL = g.append('g').attr('transform',`translate(${x0},0)`).call(d3.axisLeft(y).tickValues(yTickSets[i]).tickSize(-4).tickPadding(8).tickFormat(fmt));
  const axR = g.append('g').attr('transform',`translate(${x1},0)`).call(d3.axisRight(y).tickValues(yTickSets[i]).tickSize(-4).tickFormat(''));
  [axB,axT,axL,axR].forEach(a => { a.select('.domain').remove(); a.selectAll('line').attr('stroke',boxCol).attr('stroke-width',1.5); });
  [axB,axL].forEach(a => a.selectAll('text').attr('font-family',serif).attr('font-size',20.5).attr('fill','#2a2a2a'));

  g.append('g').selectAll('path').data(datasets[i]).join('path')
    .attr('transform',d => `translate(${x(d[0])},${y(d[1])})`)
    .attr('d',diamond(3.9,4.9)).attr('fill','none')
    .attr('stroke','#df2429').attr('stroke-opacity',0.75).attr('stroke-width',1.5);

  g.append('rect').attr('x',x0).attr('y',y0).attr('width',x1-x0).attr('height',y1-y0)
    .attr('fill','none').attr('stroke',boxCol).attr('stroke-width',2);

  g.append('text').attr('x',(x0+x1)/2).attr('y',y0 - 16).attr('text-anchor','middle')
    .attr('font-family',serif).attr('font-weight','bold').attr('font-size',21).attr('fill','#111').text(title);
});
</script>
</body></html>
